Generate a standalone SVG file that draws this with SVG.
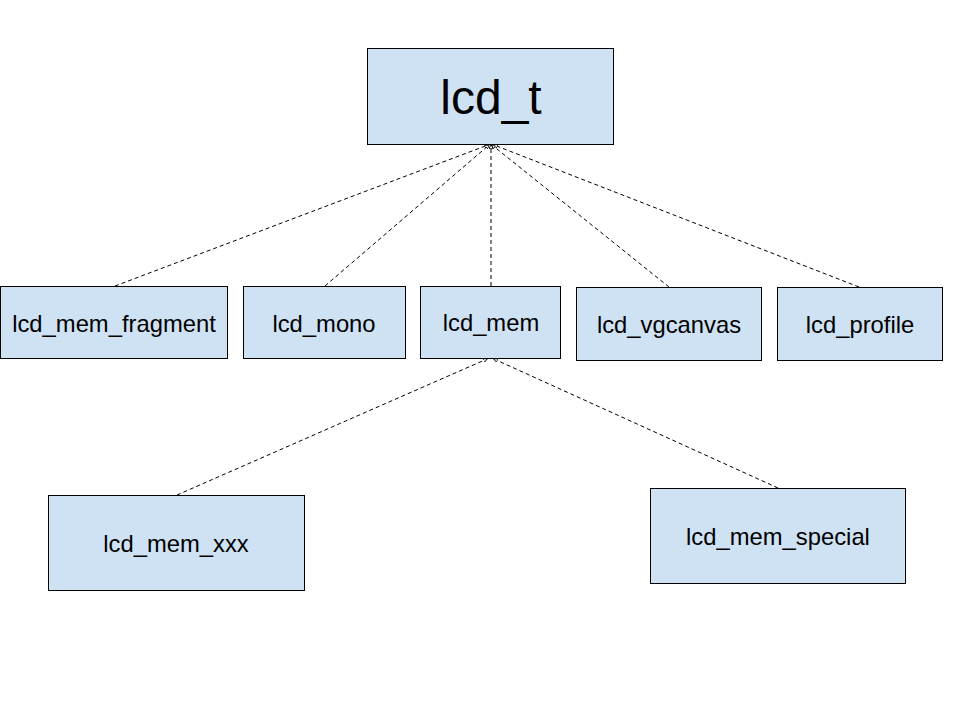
<svg xmlns="http://www.w3.org/2000/svg" width="960" height="720" viewBox="0 0 960 720">
<style>
.box{fill:#cfe2f3;stroke:#000;stroke-width:1}
.lbl{font-family:"Liberation Sans",Arial,sans-serif;font-size:23.8px;fill:#000;text-anchor:middle}
.big{font-size:48px}
.edge{stroke:#000;stroke-width:1;stroke-dasharray:4,3;fill:none;marker-end:url(#open)}
</style>
<defs>
<marker id="open" viewBox="0 0 10 10" refX="9" refY="5" markerWidth="4" markerHeight="4" orient="auto" markerUnits="userSpaceOnUse">
<path d="M0,0 L10,5 L0,10 Z" fill="#fff" stroke="#000" stroke-width="2"/>
</marker>
</defs>
<rect width="960" height="720" fill="#fff"/>
<g id="connectors">
<line class="edge" x1="115" y1="286" x2="488" y2="145"/>
<line class="edge" x1="325" y1="286" x2="489" y2="145"/>
<line class="edge" x1="491" y1="286" x2="491" y2="145"/>
<line class="edge" x1="669" y1="287" x2="492" y2="145"/>
<line class="edge" x1="859" y1="287" x2="494" y2="145"/>
<line class="edge" x1="177" y1="495" x2="487" y2="359"/>
<line class="edge" x1="778" y1="488" x2="494" y2="359"/>
</g>
<g id="lcd_t"><rect class="box" x="367.5" y="48.5" width="246" height="96"/><text class="lbl big" x="491" y="114">lcd_t</text></g>
<g id="lcd_mem_fragment"><rect class="box" x="0.5" y="286.5" width="227" height="72"/><text class="lbl" x="114" y="332">lcd_mem_fragment</text></g>
<g id="lcd_mono"><rect class="box" x="243.5" y="286.5" width="162" height="72"/><text class="lbl" x="324" y="332">lcd_mono</text></g>
<g id="lcd_mem"><rect class="box" x="420.5" y="286.5" width="140" height="72"/><text class="lbl" x="491" y="331">lcd_mem</text></g>
<g id="lcd_vgcanvas"><rect class="box" x="576.5" y="287.5" width="185" height="73"/><text class="lbl" x="669" y="333">lcd_vgcanvas</text></g>
<g id="lcd_profile"><rect class="box" x="777.5" y="287.5" width="165" height="73"/><text class="lbl" x="860" y="333">lcd_profile</text></g>
<g id="lcd_mem_xxx"><rect class="box" x="48.5" y="495.5" width="256" height="95"/><text class="lbl" x="176" y="552">lcd_mem_xxx</text></g>
<g id="lcd_mem_special"><rect class="box" x="650.5" y="488.5" width="255" height="95"/><text class="lbl" x="778" y="545">lcd_mem_special</text></g>
</svg>
